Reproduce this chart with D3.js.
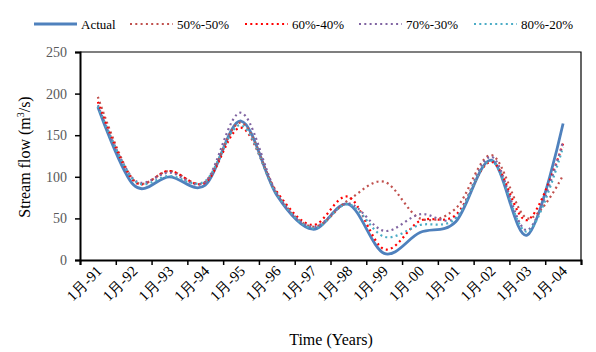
<!DOCTYPE html>
<html>
<head>
<meta charset="utf-8">
<script src="https://cdn.jsdelivr.net/npm/d3@7.9.0/dist/d3.min.js"></script>
<style>
  body { margin: 0; background: #fff; }
  svg text { font-family: "Liberation Serif", "Times New Roman", serif !important; }
</style>
</head>
<body>
<svg id="chart" width="596" height="352"></svg>
<script>
// categories (x tick labels)
const years = ['1月-91', '1月-92', '1月-93', '1月-94', '1月-95', '1月-96', '1月-97',
  '1月-98', '1月-99', '1月-00', '1月-01', '1月-02', '1月-03', '1月-04'];

// series values
const actual = [184, 90, 100, 90, 167, 78, 37, 67, 8, 33, 46, 120, 30, 164];
const split5050 = [196, 96, 107, 94, 165, 80, 40, 72, 94, 50, 62, 126, 50, 102];
const split6040 = [190, 95, 107, 93, 159, 82, 42, 76, 13, 47, 54, 118, 48, 140];
const split7030 = [186, 97, 105, 94, 177, 80, 40, 68, 35, 55, 51, 124, 36, 143];
const split8020 = [185, 96, 101, 95, 162, 79, 38, 67, 28, 42, 50, 119, 34, 136];

const yTicks = [0, 50, 100, 150, 200, 250];

const series = [
  { name: 'Actual', values: actual, color: '#4F81BD', solid: true },
  { name: '50%-50%', values: split5050, color: '#C0504D' },
  { name: '60%-40%', values: split6040, color: '#FF0000' },
  { name: '70%-30%', values: split7030, color: '#8064A2' },
  { name: '80%-20%', values: split8020, color: '#4BACC6' }
];

const plotL = 80, plotR = 581, plotT = 52, plotB = 260;
const serif = '"Liberation Serif", "Times New Roman", serif';

const svg = d3.select('#chart').attr('font-family', serif);

const x = d3.scaleLinear().domain([0, years.length]).range([plotL, plotR]);
const y = d3.scaleLinear().domain([0, 250]).range([plotB, plotT]);

// frame (top and right)
svg.append('path')
  .attr('d', `M${plotL},${plotT}H${plotR}V${plotB}`)
  .attr('fill', 'none')
  .attr('stroke', '#000')
  .attr('stroke-width', 1.2);

// y axis
const yAxis = svg.append('g')
  .attr('transform', `translate(${plotL},0)`)
  .call(d3.axisLeft(y).tickValues(yTicks).tickSize(5).tickPadding(8))
  .attr('font-family', serif);
yAxis.select('.domain').attr('stroke-width', 2);
yAxis.selectAll('.tick line').attr('stroke-width', 1.5);
yAxis.selectAll('.tick text')
  .attr('font-size', 14)
  .attr('fill', '#595959');

// x axis: ticks at category boundaries
const xAxis = svg.append('g')
  .attr('transform', `translate(0,${plotB})`)
  .call(d3.axisBottom(x).tickValues(d3.range(years.length + 1)).tickSize(5).tickFormat(''));
xAxis.select('.domain').attr('stroke-width', 2);
xAxis.selectAll('.tick line').attr('stroke-width', 1.5);

// x labels, centered in each category and rotated
svg.append('g')
  .selectAll('text')
  .data(years)
  .join('text')
  .attr('transform', (d, i) => `translate(${x(i + 0.5) + 5},${plotB + 12}) rotate(-45)`)
  .attr('text-anchor', 'end')
  .attr('font-size', 15)
  .attr('fill', '#000')
  .text((d) => d);

// lines
const line = d3.line()
  .x((d, i) => x(i + 0.5))
  .y((d) => y(d))
  .curve(d3.curveCardinal.tension(0));

series.forEach((s) => {
  svg.append('path')
    .attr('d', line(s.values))
    .attr('fill', 'none')
    .attr('stroke', s.color)
    .attr('stroke-width', s.solid ? 2.8 : 2.2)
    .attr('stroke-dasharray', s.solid ? null : '2,3.3');
});

// axis titles
svg.append('text')
  .attr('x', 331)
  .attr('y', 345)
  .attr('text-anchor', 'middle')
  .attr('font-size', 16)
  .text('Time (Years)');

const yt = svg.append('text')
  .attr('transform', 'translate(30,157) rotate(-90)')
  .attr('text-anchor', 'middle')
  .attr('font-size', 16);
yt.append('tspan').text('Stream flow (m');
yt.append('tspan').attr('font-size', 10).attr('dy', -6).text('3');
yt.append('tspan').attr('dy', 6).text('/s)');

// legend
const legendX = [34, 130, 245, 359, 474];
const legend = svg.append('g');
series.forEach((s, i) => {
  legend.append('line')
    .attr('x1', legendX[i]).attr('x2', legendX[i] + 43)
    .attr('y1', 24).attr('y2', 24)
    .attr('stroke', s.color)
    .attr('stroke-width', s.solid ? 2.8 : 2.2)
    .attr('stroke-dasharray', s.solid ? null : '2,3.3');
  legend.append('text')
    .attr('x', legendX[i] + 47)
    .attr('y', 29)
    .attr('font-size', 13)
    .text(s.name);
});
</script>
</body>
</html>
